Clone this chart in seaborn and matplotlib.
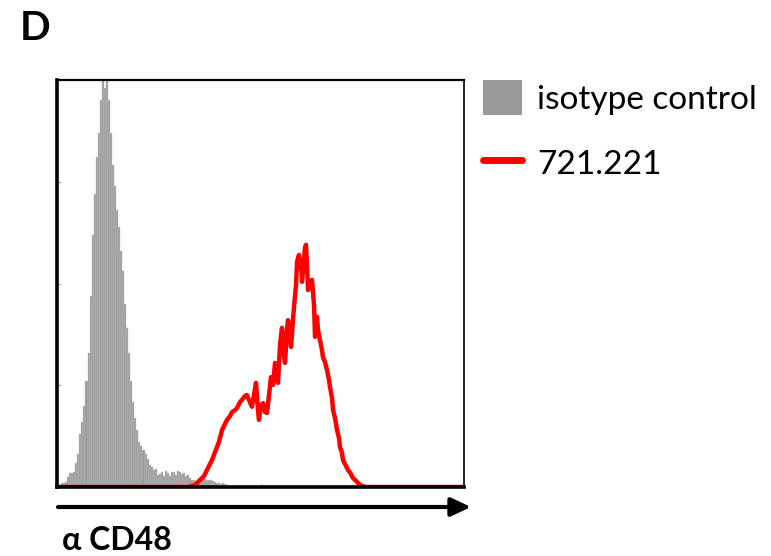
import numpy as np
import pandas as pd
import matplotlib
matplotlib.use("Agg")
import matplotlib.pyplot as plt
import seaborn as sns
from matplotlib.patches import Patch, FancyArrowPatch
from matplotlib.lines import Line2D

# gray isotype histogram: bins of 0.02 decades starting at 0.02, heights in % of max
iso_bin_start = 0.02
iso_bin_width = 0.02
iso_counts = [0.5, 1, 1, 1.2, 2.5, 3.5, 3.5, 3.8, 6, 8,
              13, 16, 20, 26, 33, 47, 62, 72, 81, 87,
              95, 100, 98, 100, 95, 87, 79, 74, 68, 64,
              58, 53, 45, 39, 33, 26, 21, 17, 14, 11,
              10, 9, 8, 7, 5.5, 5, 4.2, 4.5, 3, 3.2,
              3.6, 2.8, 4, 3.5, 2.8, 3.6, 3.8, 3, 4, 3.6,
              3.2, 3.4, 2.8, 3, 2.2, 1.8, 1.6, 1.4, 1.6, 2,
              2.2, 2, 1.8, 1.6, 1.7, 1.5, 1.2, 1, 1, 0.8,
              1, 0.8, 0.6, 0.3]

# red 721.221 histogram outline (x in log decades, y in % of max)
cd48_x = [0.0, 1.287, 1.356, 1.405, 1.445, 1.474, 1.523, 1.572, 1.592, 1.622,
          1.651, 1.671, 1.700, 1.720, 1.749, 1.769, 1.799, 1.818, 1.848, 1.867,
          1.887, 1.916, 1.936, 1.956, 1.975, 1.985, 2.005, 2.025, 2.044, 2.064,
          2.084, 2.103, 2.123, 2.143, 2.162, 2.172, 2.192, 2.211, 2.231, 2.241,
          2.260, 2.270, 2.290, 2.300, 2.319, 2.329, 2.349, 2.359, 2.378, 2.388,
          2.398, 2.408, 2.418, 2.428, 2.437, 2.447, 2.457, 2.467, 2.486, 2.506,
          2.526, 2.536, 2.555, 2.565, 2.585, 2.604, 2.614, 2.634, 2.654, 2.673,
          2.683, 2.703, 2.713, 2.732, 2.752, 2.772, 2.781, 2.801, 2.811, 2.840,
          2.860, 2.889, 2.909, 2.939, 2.978, 3.027, 4.0]
cd48_y = [0, 0, 0.5, 1.7, 2.7, 4.2, 6.6, 9.8, 11.1, 14.0,
          15.5, 16.5, 17.4, 18.4, 18.9, 19.4, 20.9, 21.4, 22.4, 22.6,
          21.4, 19.7, 22.6, 25.6, 18.9, 16.5, 20.1, 20.6, 18.4, 18.2,
          22.6, 27.0, 25.1, 30.5, 26.8, 25.6, 34.9, 39.1, 32.4, 30.5,
          38.6, 41.0, 37.3, 34.4, 41.0, 44.2, 49.6, 55.3, 57.0, 53.8,
          55.8, 50.4, 53.3, 56.3, 58.7, 59.5, 54.5, 48.4, 49.6, 50.9,
          44.7, 36.9, 41.8, 38.6, 36.1, 33.7, 31.9, 30.7, 28.7, 26.3,
          24.6, 21.9, 18.9, 17.0, 14.0, 12.0, 9.8, 8.4, 6.6, 5.2,
          4.2, 3.2, 2.2, 1.5, 0.5, 0, 0]

labels = ["isotype control", "721.221"]

sns.set_style("white")
plt.rcParams["font.family"] = ["Lato", "DejaVu Sans"]
plt.rcParams["text.color"] = "black"

n_bins = len(iso_counts)
edges = iso_bin_start + iso_bin_width * np.arange(n_bins + 1)
iso = pd.DataFrame({"x": (edges[:-1] + edges[1:]) / 2, "count": iso_counts})
red = pd.DataFrame({"x": cd48_x, "y": cd48_y})

fig = plt.figure(figsize=(7.71, 5.56), dpi=100)
ax = fig.add_axes([57 / 771, 69 / 556, 407 / 771, 407 / 556])

sns.histplot(data=iso, x="x", weights="count", bins=list(edges), ax=ax,
             color="#9a9a9a", alpha=1, edgecolor="#c4c4c4", linewidth=0.3)
sns.lineplot(data=red, x="x", y="y", sort=False, estimator=None, ax=ax,
             color="red", linewidth=3.2)

ax.set_xlim(0, 4)
ax.set_ylim(0, 100)
ax.set_xlabel("")
ax.set_ylabel("")
ax.set_xticks([1, 2, 3])
ax.set_yticks([25, 50, 75])
ax.tick_params(direction="in", length=2, width=0.8, color="#888888",
               labelbottom=False, labelleft=False, bottom=True, left=True)
for side, lw in [("left", 2.6), ("bottom", 2.6), ("top", 1.6), ("right", 1.2)]:
    ax.spines[side].set_visible(True)
    ax.spines[side].set_color("black")
    ax.spines[side].set_linewidth(lw)

handles = [Patch(facecolor="#9a9a9a", edgecolor="none"),
           Line2D([], [], color="red", linewidth=5)]
ax.legend(handles, labels, loc="upper left", bbox_to_anchor=(483 / 771, 1 - 80 / 556),
          bbox_transform=fig.transFigure, frameon=False, fontsize=24,
          handlelength=1.17, handleheight=1.25, handletextpad=0.45,
          labelspacing=0.9, borderpad=0, borderaxespad=0)

arrow = FancyArrowPatch((58 / 771, 49 / 556), (471 / 771, 49 / 556),
                        transform=fig.transFigure, arrowstyle="-|>,head_length=0.6,head_width=0.28",
                        mutation_scale=20, color="black", linewidth=3, shrinkA=0, shrinkB=0)
fig.add_artist(arrow)

fig.text(62 / 771, 16 / 556, "α CD48", fontsize=23, fontweight="bold", va="center", ha="left")
fig.text(20 / 771, 1 - 28 / 556, "D", fontsize=29, fontweight="bold", va="center", ha="left")

fig.savefig("out.png", dpi=100)
